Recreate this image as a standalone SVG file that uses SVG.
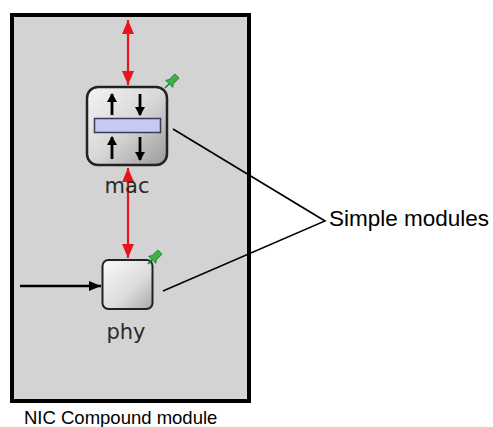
<svg xmlns="http://www.w3.org/2000/svg" width="493" height="427" viewBox="0 0 493 427">
<style>
.lbl{font-family:"DejaVu Sans",sans-serif;font-size:21px;fill:#2a2a2a;text-anchor:middle}
.cap{font-family:"Liberation Sans",Arial,sans-serif;fill:#000}
.red{stroke:#e8141c;stroke-width:2.2;fill:none}
.blk{stroke:#000;stroke-width:2.5;fill:none}
.call{stroke:#000;stroke-width:1.6;fill:none}
.pin{fill:#3cb04a;stroke:#1d7a2a;stroke-width:0.8}
.ia{stroke:#000;stroke-width:2.8;fill:none}
</style>
<defs>
<linearGradient id="gMac" x1="0" y1="0" x2="1" y2="1">
<stop offset="0" stop-color="#f4f4f4"/>
<stop offset="0.5" stop-color="#d8d8d8"/>
<stop offset="1" stop-color="#9a9a9a"/>
</linearGradient>
<linearGradient id="gPhy" x1="0" y1="0" x2="1" y2="1">
<stop offset="0" stop-color="#fafafa"/>
<stop offset="0.6" stop-color="#dcdcdc"/>
<stop offset="1" stop-color="#a8a8a8"/>
</linearGradient>
<marker id="rh" viewBox="0 0 14 12" refX="14" refY="6" markerWidth="14" markerHeight="12" markerUnits="userSpaceOnUse" orient="auto-start-reverse">
<path d="M0,0 L14,6 L0,12 Z" fill="#e8141c"/>
</marker>
<marker id="bh" viewBox="0 0 12 10" refX="12" refY="5" markerWidth="12" markerHeight="10" markerUnits="userSpaceOnUse" orient="auto">
<path d="M0,0 L12,5 L0,10 Z" fill="#000"/>
</marker>
<marker id="sh" viewBox="0 0 9 10" refX="8" refY="5" markerWidth="9" markerHeight="10" markerUnits="userSpaceOnUse" orient="auto">
<path d="M0,0 L9,5 L0,10 Z" fill="#000"/>
</marker>
<g id="pinIcon">
<path class="pin" d="M-3,-7 L3,-7 L3,1 L5,4 L-5,4 L-3,1 Z"/>
<line x1="0" y1="4" x2="0" y2="10" stroke="#1d7a2a" stroke-width="1.4"/>
</g>
</defs>

<g id="nic">
<rect x="12" y="15" width="237" height="386" fill="#d3d3d3" stroke="#000" stroke-width="4"/>
<text class="cap" x="24" y="424" font-size="18.5">NIC Compound module</text>
</g>

<g id="connectors">
<line class="red" x1="128" y1="20" x2="128" y2="85" marker-start="url(#rh)" marker-end="url(#rh)"/>
<line class="red" x1="128" y1="168" x2="128" y2="258" marker-start="url(#rh)" marker-end="url(#rh)"/>
<line class="blk" x1="20" y1="286" x2="101" y2="286" marker-end="url(#bh)"/>
<polyline class="call" points="173,129 325,221 163,291"/>
</g>

<g id="mac">
<rect x="87" y="87" width="80" height="78" rx="11" fill="url(#gMac)" stroke="#222" stroke-width="2.5"/>
<line class="ia" x1="112" y1="115" x2="112" y2="94" marker-end="url(#sh)"/>
<line class="ia" x1="140" y1="94" x2="140" y2="115" marker-end="url(#sh)"/>
<line class="ia" x1="112" y1="159" x2="112" y2="137" marker-end="url(#sh)"/>
<line class="ia" x1="140" y1="137" x2="140" y2="160" marker-end="url(#sh)"/>
<rect x="94.5" y="118.5" width="66" height="14" fill="#c8c8f2" stroke="#3a3a5a" stroke-width="1.5"/>
<use href="#pinIcon" transform="translate(172,81) rotate(45)"/>
<text class="lbl" x="127" y="193">mac</text>
</g>

<g id="phy">
<rect x="102.5" y="260" width="50" height="49" rx="6" fill="url(#gPhy)" stroke="#222" stroke-width="2"/>
<use href="#pinIcon" transform="translate(155,257) rotate(45)"/>
<text class="lbl" x="126" y="339">phy</text>
</g>

<g id="callout">
<text class="cap" x="329" y="226" font-size="22.5">Simple modules</text>
</g>
</svg>
